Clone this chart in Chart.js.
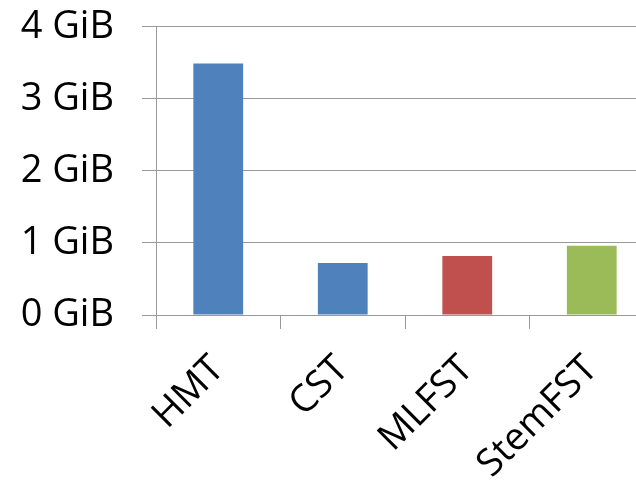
<!DOCTYPE html>
<html>
<head>
<meta charset="utf-8">
<script src="https://cdn.jsdelivr.net/npm/chart.js@4"></script>
<style>
  html, body { margin: 0; padding: 0; background: #fff; overflow: hidden; }
  #wrap { width: 636px; height: 480px; overflow: hidden; }
  #chart { display: block; margin-top: -24px; }
</style>
</head>
<body>
<div id="wrap"><canvas id="chart" width="660" height="504"></canvas></div>
<script>
  // values, in GiB
  const categories = ["HMT", "CST", "MLFST", "StemFST"]
  const sizes = [3.49, 0.72, 0.82, 0.96]
  const barColors = ["#4F81BD", "#4F81BD", "#C0504D", "#9BBB59"]
  const yTicks = [0, 1, 2, 3, 4]

  const gridGray = "#999999"
  const labelFont = { family: "Open Sans", size: 38 }

  const ctx = document.getElementById("chart")
  const chart = new Chart(ctx, {
    type: "bar",
    data: {
      labels: categories,
      datasets: [{
        data: sizes,
        backgroundColor: barColors,
        barPercentage: 0.4,
        categoryPercentage: 1.0
      }]
    },
    options: {
      responsive: false,
      animation: false,
      layout: { padding: { top: 4, right: 6, left: 0, bottom: 0 } },
      plugins: {
        legend: { display: false },
        tooltip: { enabled: false }
      },
      scales: {
        x: {
          offset: true,
          afterFit(scale) { scale.height = 165 },
          grid: {
            offset: true,
            drawOnChartArea: false,
            drawTicks: true,
            tickLength: 14,
            color: gridGray
          },
          border: { display: true, color: gridGray },
          ticks: {
            font: labelFont,
            color: "#000",
            minRotation: 45,
            maxRotation: 45,
            padding: 18
          }
        },
        y: {
          min: 0,
          max: 4,
          afterFit(scale) { scale.width = 156 },
          afterBuildTicks(scale) { scale.ticks = yTicks.map(v => ({ value: v })) },
          grid: { color: gridGray, tickLength: 14 },
          border: { display: true, color: gridGray },
          ticks: {
            font: labelFont,
            color: "#000",
            padding: 28,
            callback: v => v + " GiB"
          }
        }
      }
    }
  })
</script>
</body>
</html>
